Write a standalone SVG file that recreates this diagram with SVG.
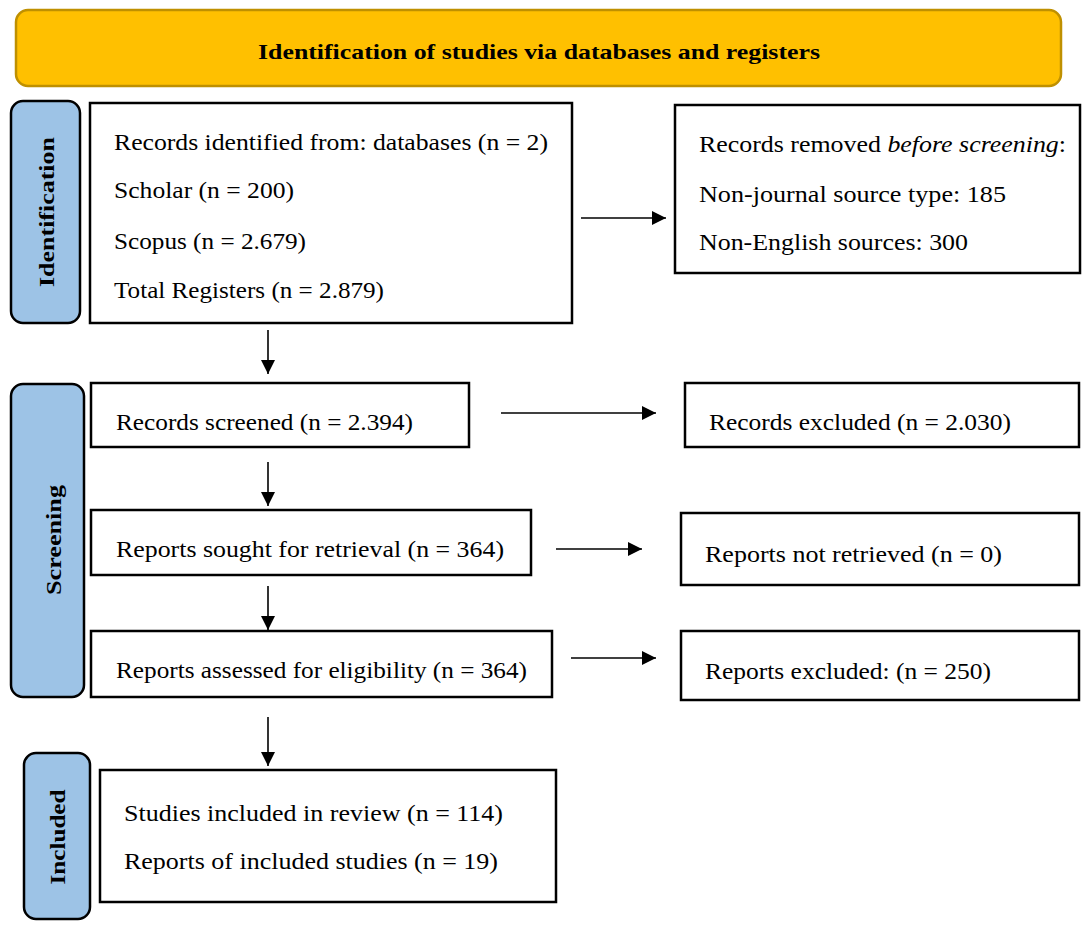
<svg xmlns="http://www.w3.org/2000/svg" width="1089" height="930" viewBox="0 0 1089 930">
<defs>
<marker id="ah" viewBox="0 0 14 14" refX="14" refY="7" markerWidth="14" markerHeight="14" markerUnits="userSpaceOnUse" orient="auto">
<path d="M0,0 L14,7 L0,14 z" fill="#000"/>
</marker>
<style>
.t{font-family:"Liberation Serif","DejaVu Serif",serif;font-size:23px;fill:#000}
.b{fill:#fff;stroke:#000;stroke-width:2.5}
.side{fill:#9DC3E6;stroke:#000;stroke-width:2.5}
.lab{font-family:"Liberation Serif","DejaVu Serif",serif;font-size:22px;font-weight:bold;fill:#000;text-anchor:middle}
.c{stroke:#000;stroke-width:1.6;fill:none;marker-end:url(#ah)}
</style>
</defs>
<rect width="1089" height="930" fill="#fff"/>
<g id="title">
<rect x="16" y="10" width="1045" height="76" rx="12" fill="#FFC000" stroke="#BF9000" stroke-width="2.5"/>
<text class="lab" x="539" y="59" textLength="562" lengthAdjust="spacingAndGlyphs">Identification of studies via databases and registers</text>
</g>
<g id="lab-identification">
<rect class="side" x="11" y="101" width="69" height="222" rx="12"/>
<text class="lab" transform="translate(54,212) rotate(-90)" textLength="150" lengthAdjust="spacingAndGlyphs">Identification</text>
</g>
<g id="lab-screening">
<rect class="side" x="11" y="384" width="73" height="313" rx="12"/>
<text class="lab" font-weight="normal" transform="translate(61,540) rotate(-90)" textLength="110" lengthAdjust="spacingAndGlyphs">Screening</text>
</g>
<g id="lab-included">
<rect class="side" x="24" y="753" width="66" height="166" rx="12"/>
<text class="lab" transform="translate(65,837) rotate(-90)" textLength="95" lengthAdjust="spacingAndGlyphs">Included</text>
</g>
<g id="identified">
<rect class="b" x="90" y="103" width="482" height="220"/>
<text class="t" x="114" y="150" textLength="434" lengthAdjust="spacingAndGlyphs">Records identified from: databases (n = 2)</text>
<text class="t" x="114" y="198" textLength="180" lengthAdjust="spacingAndGlyphs">Scholar (n = 200)</text>
<text class="t" x="114" y="249" textLength="192" lengthAdjust="spacingAndGlyphs">Scopus (n = 2.679)</text>
<text class="t" x="114" y="298" textLength="270" lengthAdjust="spacingAndGlyphs">Total Registers (n = 2.879)</text>
</g>
<g id="removed">
<rect class="b" x="675" y="105" width="405" height="168"/>
<text class="t" x="699" y="152" textLength="367" lengthAdjust="spacingAndGlyphs">Records removed <tspan font-style="italic">before screening</tspan>:</text>
<text class="t" x="699" y="202" textLength="307" lengthAdjust="spacingAndGlyphs">Non-journal source type: 185</text>
<text class="t" x="699" y="250" textLength="269" lengthAdjust="spacingAndGlyphs">Non-English sources: 300</text>
</g>
<g id="screened">
<rect class="b" x="91" y="383" width="378" height="64"/>
<text class="t" x="116" y="430" textLength="297" lengthAdjust="spacingAndGlyphs">Records screened (n = 2.394)</text>
</g>
<g id="excluded">
<rect class="b" x="685" y="383" width="394" height="64"/>
<text class="t" x="709" y="430" textLength="302" lengthAdjust="spacingAndGlyphs">Records excluded (n = 2.030)</text>
</g>
<g id="sought">
<rect class="b" x="91" y="510" width="440" height="65"/>
<text class="t" x="116" y="557" textLength="388" lengthAdjust="spacingAndGlyphs">Reports sought for retrieval (n = 364)</text>
</g>
<g id="notretrieved">
<rect class="b" x="681" y="513" width="398" height="72"/>
<text class="t" x="705" y="562" textLength="297" lengthAdjust="spacingAndGlyphs">Reports not retrieved (n = 0)</text>
</g>
<g id="assessed">
<rect class="b" x="91" y="631" width="461" height="66"/>
<text class="t" x="116" y="678" textLength="411" lengthAdjust="spacingAndGlyphs">Reports assessed for eligibility (n = 364)</text>
</g>
<g id="reportsexcluded">
<rect class="b" x="681" y="631" width="398" height="69"/>
<text class="t" x="705" y="679" textLength="286" lengthAdjust="spacingAndGlyphs">Reports excluded: (n = 250)</text>
</g>
<g id="included">
<rect class="b" x="100" y="770" width="456" height="132"/>
<text class="t" x="124" y="821" textLength="379" lengthAdjust="spacingAndGlyphs">Studies included in review (n = 114)</text>
<text class="t" x="124" y="869" textLength="374" lengthAdjust="spacingAndGlyphs">Reports of included studies (n = 19)</text>
</g>
<g id="connectors">
<line class="c" x1="581" y1="218" x2="666" y2="218"/>
<line class="c" x1="268" y1="330" x2="268" y2="374"/>
<line class="c" x1="501" y1="413" x2="656" y2="413"/>
<line class="c" x1="268" y1="462" x2="268" y2="506"/>
<line class="c" x1="556" y1="549" x2="642" y2="549"/>
<line class="c" x1="268" y1="586" x2="268" y2="630"/>
<line class="c" x1="571" y1="658" x2="656" y2="658"/>
<line class="c" x1="268" y1="717" x2="268" y2="766"/>
</g>
</svg>
